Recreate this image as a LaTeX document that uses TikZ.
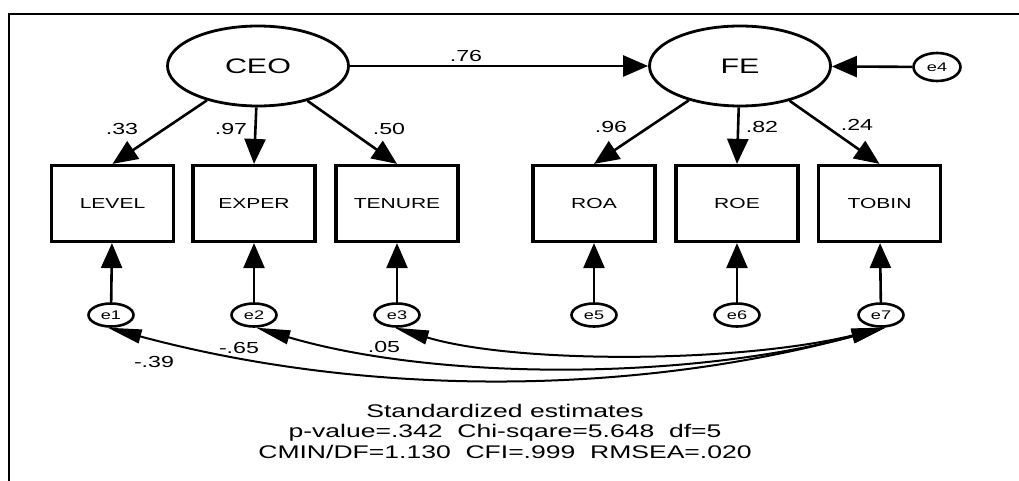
\documentclass[tikz,border=0pt]{standalone}
\usepackage{fontspec}
\setmainfont{Liberation Sans}[FakeStretch=1.45]
\usetikzlibrary{arrows.meta,shapes.geometric}
\begin{document}
\begin{tikzpicture}[x=1pt,y=1pt,
  lat/.style={ellipse,draw,line width=2.8pt,minimum width=181pt,minimum height=80pt,inner sep=0pt,font=\fontsize{21}{25}\selectfont},
  obs/.style={rectangle,draw,line width=3.2pt,minimum width=122pt,minimum height=76pt,inner sep=0pt,font=\fontsize{14.5}{17}\selectfont},
  err/.style={ellipse,draw,line width=2.6pt,minimum width=45pt,minimum height=23pt,inner sep=0pt,font=\fontsize{12.5}{15}\selectfont},
  reg/.style={line width=2.6pt,-{Triangle[length=25pt,width=21pt]}},
  cov/.style={line width=2pt,{Triangle[length=34pt,width=14pt]}-{Triangle[length=34pt,width=14pt]}},
  lbl/.style={inner sep=0pt,font=\fontsize{16}{19}\selectfont}]
\useasboundingbox (0,0) rectangle (1019,-481);
\fill[white] (0,0) rectangle (1019,-481);
\draw[line width=2.6pt] (9,-481) -- (9,-14) -- (1019,-14);
% latent
\node[lat] (CEO) at (258,-66) {CEO};
\node[lat] (FE) at (740,-66) {FE};
\node[err,minimum width=47pt,minimum height=28pt] (e4) at (937,-67) {e4};
% observed
\node[obs] (LEVEL) at (112.5,-203.5) {LEVEL};
\node[obs] (EXPER) at (254,-203.5) {EXPER};
\node[obs] (TENURE) at (397,-203.5) {TENURE};
\node[obs] (ROA) at (594,-203.5) {ROA};
\node[obs] (ROE) at (737,-203.5) {ROE};
\node[obs] (TOBIN) at (879.5,-203.5) {TOBIN};
% errors
\node[err] (e1) at (111,-315) {e1};
\node[err] (e2) at (254,-315) {e2};
\node[err] (e3) at (397,-315) {e3};
\node[err] (e5) at (594,-315) {e5};
\node[err] (e6) at (737,-315) {e6};
\node[err] (e7) at (881,-315) {e7};
% regressions
\draw[reg] (CEO) -- (FE);
\draw[reg] (e4) -- (FE);
\draw[reg] (CEO) -- (LEVEL.north);
\draw[reg] (CEO) -- (EXPER.north);
\draw[reg] (CEO) -- (TENURE.north);
\draw[reg] (FE) -- (ROA.north);
\draw[reg] (FE) -- (ROE.north);
\draw[reg] (FE) -- (TOBIN.north);
\draw[reg] (e1) -- (LEVEL);
\draw[reg] (e2) -- (EXPER);
\draw[reg] (e3) -- (TENURE);
\draw[reg] (e5) -- (ROA);
\draw[reg] (e6) -- (ROE);
\draw[reg] (e7) -- (TOBIN);
% covariances
\draw[cov] (e1.-105) .. controls +(257,-69) and +(-257,-69) .. (e7.-70);
\draw[cov] (e2.-80) .. controls +(180,-53) and +(-200,-53) .. (e7.-70);
\draw[cov] (e3.-100) .. controls +(120,-36) and +(-150,-36) .. (e7.-70);
% labels
\node[lbl] (l76) at (466,-56) {.76};
\node[lbl] (l33) at (122,-129) {.33};
\node[lbl] (l97) at (231,-129) {.97};
\node[lbl] (l50) at (389,-129) {.50};
\node[lbl] (l96) at (611,-127) {.96};
\node[lbl] (l82) at (762,-127) {.82};
\node[lbl] (l24) at (857,-125) {.24};
\node[lbl] (l39) at (154,-362) {-.39};
\node[lbl] (l65) at (239,-348) {-.65};
\node[lbl] (l05) at (384,-347) {.05};
% fit text
\node[align=center,inner sep=0pt,font=\fontsize{18.3}{20.5}\selectfont] (fit) at (505,-431)
  {Standardized estimates\\p-value=.342\ \ Chi-sqare=5.648\ \ df=5\\CMIN/DF=1.130\ \ CFI=.999\ \ RMSEA=.020};
\end{tikzpicture}
\end{document}
